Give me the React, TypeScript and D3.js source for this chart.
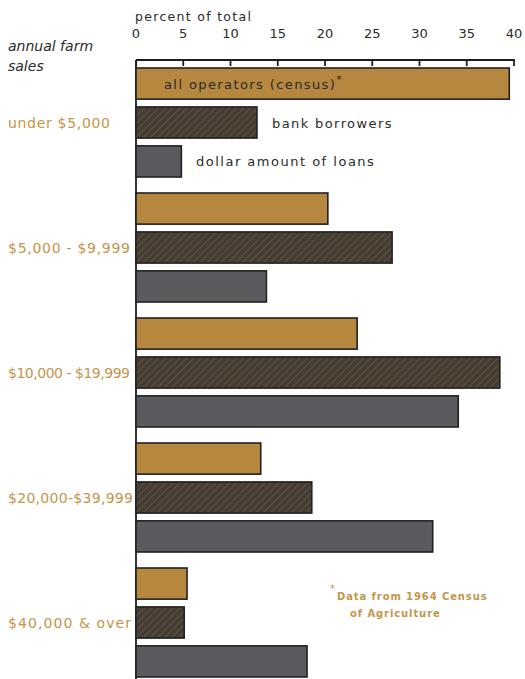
import React from "react";
import * as d3 from "d3";

const categories = ["under $5,000", "$5,000 - $9,999", "$10,000 - $19,999", "$20,000-$39,999", "$40,000 & over"];
const series = ["all operators (census)", "bank borrowers", "dollar amount of loans"];
const allOperators = [39.5, 20.3, 23.4, 13.2, 5.4];
const bankBorrowers = [12.8, 27.1, 38.5, 18.6, 5.1];
const dollarAmount = [4.8, 13.8, 34.1, 31.4, 18.1];
const ticks = [0, 5, 10, 15, 20, 25, 30, 35, 40];

const W = 525, H = 679;
const X0 = 136, X1 = 514;
const AXIS_Y = 60;
const FONT = "'DejaVu Sans', 'Open Sans', sans-serif";
const GOLD_TEXT = "#C4954A";

export default function App() {
  const x = d3.scaleLinear().domain([0, 40]).range([X0, X1]);
  const y = d3.scaleBand<string>().domain(categories).range([68, 68 + 125 * (5 - 0.128)]).paddingInner(0.128).paddingOuter(0);
  const inner = d3.scaleBand<string>().domain(series).range([0, y.bandwidth()]).paddingInner(0.2).paddingOuter(0);
  const values = [allOperators, bankBorrowers, dollarAmount];
  const fills = ["#B5873F", "url(#hatch)", "#5A5B5F"];
  const g0 = y(categories[0]) as number;
  const mid = (s: string) => g0 + (inner(s) as number) + inner.bandwidth() / 2 + 5;
  const labelWidth = [102, 122, 122, 125, 123];

  return (
    <div style={{ position: "absolute", left: 0, top: 0 }}>
      <svg width={W} height={H} style={{ display: "block" }}>
        <defs>
          <pattern id="hatch" patternUnits="userSpaceOnUse" width="5" height="5" patternTransform="rotate(45)">
            <rect width="5" height="5" fill="#463C31" />
            <line x1="0" y1="0" x2="0" y2="5" stroke="#62584A" strokeWidth="1.6" />
          </pattern>
        </defs>
        <rect width={W} height={H} fill="#ffffff" />

        {/* axis title */}
        <text x={X0 - 1} y={21} fontFamily={FONT} fontSize={12.5} fill="#2b2b2b" letterSpacing={1.3}>percent of total</text>
        {ticks.map((t) => (
          <text key={t} x={x(t)} y={38} textAnchor="middle" fontFamily={FONT} fontSize={13} fill="#2b2b2b">{t}</text>
        ))}
        {/* top axis */}
        <line x1={X0} x2={X1 + 1} y1={AXIS_Y} y2={AXIS_Y} stroke="#1e1e1e" strokeWidth={1.8} />
        {ticks.map((t) => (
          <line key={t} x1={x(t)} x2={x(t)} y1={AXIS_Y} y2={AXIS_Y + 6} stroke="#1e1e1e" strokeWidth={1.8} />
        ))}
        <line x1={X0} x2={X0} y1={AXIS_Y} y2={H} stroke="#1e1e1e" strokeWidth={1.8} />

        {/* y title */}
        <text x={8} y={51} fontFamily={FONT} fontStyle="italic" fontSize={14} fill="#2b2b2b">annual farm</text>
        <text x={8} y={71} fontFamily={FONT} fontStyle="italic" fontSize={14} fill="#2b2b2b">sales</text>

        {categories.map((c, i) => (
          <g key={c} transform={`translate(0,${y(c)})`}>
            {series.map((s, j) => (
              <rect key={s} x={x(0)} y={inner(s)} width={x(values[j][i]) - x(0)} height={inner.bandwidth()}
                fill={fills[j]} stroke="#222" strokeWidth={1.6} />
            ))}
            <text x={8} y={(inner(series[1]) as number) + inner.bandwidth() / 2 + 5} fontFamily={FONT} fontSize={14}
              fill={GOLD_TEXT} textLength={labelWidth[i]} lengthAdjust="spacing">{c}</text>
          </g>
        ))}

        {/* in-chart legend labels */}
        <text x={164} y={mid(series[0])} fontFamily={FONT} fontSize={13} fill="#2b2b2b" letterSpacing={1.4}>
          {series[0]}<tspan dy={-6} fontSize={11}>*</tspan>
        </text>
        <text x={272} y={mid(series[1])} fontFamily={FONT} fontSize={13} fill="#2b2b2b" letterSpacing={1.4}>{series[1]}</text>
        <text x={196} y={mid(series[2])} fontFamily={FONT} fontSize={13} fill="#2b2b2b" letterSpacing={1.5}>{series[2]}</text>

        {/* footnote */}
        <text x={330} y={592} fontFamily={FONT} fontSize={10} fill={GOLD_TEXT}>*</text>
        <text x={337} y={600} fontFamily={FONT} fontSize={10} fontWeight="bold" fill={GOLD_TEXT} letterSpacing={0.9}>Data from 1964 Census</text>
        <text x={350} y={617} fontFamily={FONT} fontSize={10} fontWeight="bold" fill={GOLD_TEXT} letterSpacing={0.9}>of Agriculture</text>
      </svg>
    </div>
  );
}
